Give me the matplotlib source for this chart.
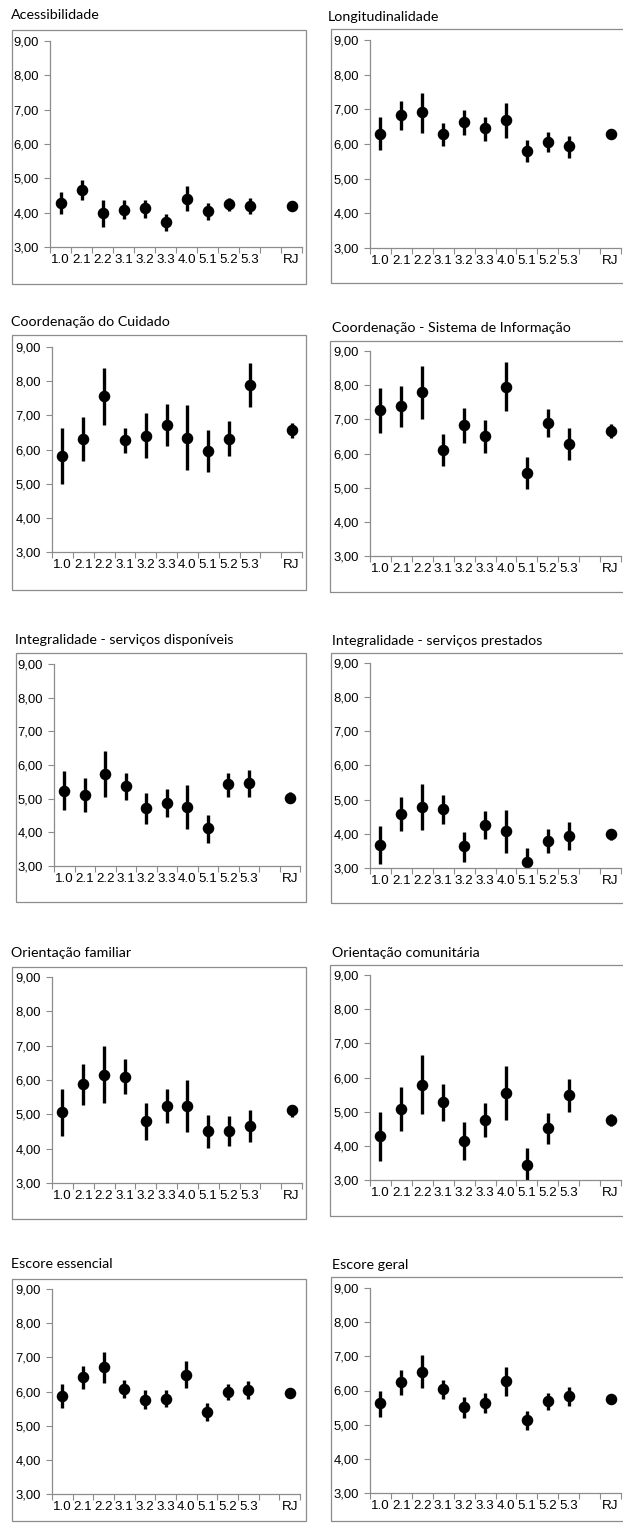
import numpy as np
import matplotlib
matplotlib.use("Agg")
from matplotlib import pyplot as plt
from matplotlib.patches import Rectangle
from matplotlib.ticker import FuncFormatter

# categories on the x axis (11th slot is empty in the original)
categories = ["1.0", "2.1", "2.2", "3.1", "3.2", "3.3", "4.0", "5.1", "5.2", "5.3", "", "RJ"]
cat_pos = [1, 2, 3, 4, 5, 6, 7, 8, 9, 10, 12]

# values: mean, lower and upper limit of the interval
acess_mean = [4.29, 4.67, 3.99, 4.09, 4.15, 3.74, 4.39, 4.04, 4.24, 4.19, 4.19]
acess_lo = [3.97, 4.36, 3.58, 3.83, 3.85, 3.48, 4.04, 3.80, 4.05, 3.97, 4.12]
acess_hi = [4.60, 4.94, 4.36, 4.38, 4.38, 3.97, 4.77, 4.28, 4.42, 4.42, 4.26]

longi_mean = [6.30, 6.84, 6.91, 6.28, 6.63, 6.45, 6.68, 5.81, 6.06, 5.93, 6.28]
longi_lo = [5.83, 6.41, 6.33, 5.93, 6.26, 6.09, 6.17, 5.47, 5.78, 5.59, 6.20]
longi_hi = [6.77, 7.25, 7.48, 6.62, 6.98, 6.77, 7.18, 6.12, 6.35, 6.24, 6.36]

coord_mean = [5.81, 6.32, 7.56, 6.27, 6.40, 6.72, 6.35, 5.96, 6.32, 7.90, 6.58]
coord_lo = [4.99, 5.65, 6.71, 5.91, 5.74, 6.11, 5.40, 5.35, 5.81, 7.25, 6.35]
coord_hi = [6.64, 6.94, 8.39, 6.62, 7.06, 7.33, 7.29, 6.58, 6.83, 8.53, 6.78]

sist_mean = [7.27, 7.39, 7.79, 6.11, 6.83, 6.50, 7.95, 5.43, 6.90, 6.27, 6.65]
sist_lo = [6.61, 6.78, 7.01, 5.64, 6.31, 6.02, 7.25, 4.95, 6.49, 5.80, 6.46]
sist_hi = [7.91, 7.97, 8.57, 6.57, 7.32, 6.98, 8.67, 5.90, 7.31, 6.74, 6.85]

disp_mean = [5.24, 5.12, 5.72, 5.37, 4.71, 4.88, 4.75, 4.12, 5.43, 5.46, 5.03]
disp_lo = [4.66, 4.60, 5.04, 4.95, 4.26, 4.45, 4.10, 3.69, 5.06, 5.06, 4.86]
disp_hi = [5.82, 5.60, 6.42, 5.77, 5.17, 5.29, 5.40, 4.52, 5.77, 5.85, 5.20]

prest_mean = [3.67, 4.59, 4.79, 4.72, 3.63, 4.27, 4.07, 3.18, 3.80, 3.93, 4.00]
prest_lo = [3.11, 4.08, 4.10, 4.30, 3.19, 3.85, 3.44, 2.78, 3.44, 3.54, 3.83]
prest_hi = [4.23, 5.08, 5.45, 5.13, 4.05, 4.66, 4.69, 3.58, 4.14, 4.34, 4.12]

fam_mean = [5.06, 5.89, 6.15, 6.09, 4.81, 5.25, 5.25, 4.51, 4.52, 4.66, 5.12]
fam_lo = [4.36, 5.28, 5.33, 5.58, 4.26, 4.75, 4.49, 4.01, 4.08, 4.18, 4.92]
fam_hi = [5.75, 6.48, 6.99, 6.60, 5.34, 5.75, 6.01, 4.99, 4.94, 5.14, 5.28]

comun_mean = [4.28, 5.09, 5.79, 5.27, 4.13, 4.76, 5.54, 3.44, 4.51, 5.48, 4.76]
comun_lo = [3.57, 4.43, 4.94, 4.74, 3.58, 4.25, 4.75, 2.93, 4.06, 4.98, 4.57]
comun_hi = [4.98, 5.72, 6.65, 5.80, 4.70, 5.25, 6.34, 3.95, 4.96, 5.97, 4.94]

ess_mean = [5.88, 6.41, 6.71, 6.08, 5.76, 5.79, 6.49, 5.39, 5.99, 6.03, 5.95]
ess_lo = [5.51, 6.08, 6.25, 5.81, 5.48, 5.54, 6.10, 5.13, 5.76, 5.78, 5.89]
ess_hi = [6.23, 6.74, 7.15, 6.35, 6.04, 6.05, 6.88, 5.66, 6.23, 6.30, 6.01]

geral_mean = [5.62, 6.24, 6.55, 6.03, 5.52, 5.64, 6.27, 5.13, 5.69, 5.84, 5.75]
geral_lo = [5.22, 5.88, 6.06, 5.74, 5.20, 5.35, 5.84, 4.83, 5.43, 5.55, 5.69]
geral_hi = [6.00, 6.60, 7.04, 6.31, 5.82, 5.93, 6.69, 5.41, 5.93, 6.11, 5.81]

titles = ["Acessibilidade", "Longitudinalidade",
          "Coordenação do Cuidado", "Coordenação - Sistema de Informação",
          "Integralidade - serviços disponíveis", "Integralidade - serviços prestados",
          "Orientação familiar", "Orientação comunitária",
          "Escore essencial", "Escore geral"]

series = [(acess_mean, acess_lo, acess_hi), (longi_mean, longi_lo, longi_hi),
          (coord_mean, coord_lo, coord_hi), (sist_mean, sist_lo, sist_hi),
          (disp_mean, disp_lo, disp_hi), (prest_mean, prest_lo, prest_hi),
          (fam_mean, fam_lo, fam_hi), (comun_mean, comun_lo, comun_hi),
          (ess_mean, ess_lo, ess_hi), (geral_mean, geral_lo, geral_hi)]

# layout in pixels: frame (x0, y0, x1, y1), axes (x0, y0, x1, y1), title (x, y)
W, H = 623, 1524
frames = [(12, 30, 306, 284), (331, 29, 628, 283),
          (12, 335, 306, 590), (330, 341, 628, 592),
          (16, 653, 306, 902), (331, 653, 628, 903),
          (12, 967, 306, 1219), (330, 965, 628, 1216),
          (12, 1279, 306, 1521), (331, 1277, 628, 1521)]
axes_px = [(50, 41, 302, 247), (370, 40, 621, 248),
           (52, 347, 302, 552), (370, 351, 621, 556),
           (54, 664, 300, 866), (370, 663, 621, 868),
           (52, 977, 302, 1183), (370, 975, 621, 1180),
           (52, 1289, 300, 1494), (370, 1288, 621, 1493)]
title_px = [(11, 15), (328, 17), (11, 322), (332, 328), (15, 640),
            (332, 641), (11, 953), (332, 953), (11, 1264), (332, 1265)]

GRAY = "#8c8c8c"
plt.rcParams['font.family'] = ['Liberation Sans', 'DejaVu Sans']

fig = plt.figure(figsize=(W / 100, H / 100), dpi=100)

for i in range(10):
    fx0, fy0, fx1, fy1 = frames[i]
    fig.patches.append(Rectangle((fx0 / W, 1 - fy1 / H), (fx1 - fx0) / W, (fy1 - fy0) / H,
                                 transform=fig.transFigure, fill=False,
                                 edgecolor=GRAY, lw=0.9))
    tx, ty = title_px[i]
    fig.text(tx / W, 1 - ty / H, titles[i], family=['Lato', 'DejaVu Sans'],
             fontsize=10.3, va='center', ha='left', color='black')

    ax0, ay0, ax1, ay1 = axes_px[i]
    ax = fig.add_axes([ax0 / W, 1 - ay1 / H, (ax1 - ax0) / W, (ay1 - ay0) / H])
    mean, lo, hi = series[i]
    mean = np.array(mean)
    yerr = [mean - np.array(lo), np.array(hi) - mean]
    ax.errorbar(cat_pos, mean, yerr=yerr, fmt='o', color='black', ms=7.3,
                elinewidth=2.4, capsize=0)

    ax.set_xlim(0.5, 12.5)
    ax.set_ylim(3, 9)
    ax.set_yticks(np.arange(3, 10, 1))
    ax.yaxis.set_major_formatter(FuncFormatter(lambda v, p: f"{v:.2f}".replace(".", ",")))
    ax.set_xticks(np.arange(0.5, 13, 1))
    ax.set_xticklabels([])
    ax.set_xticks(np.arange(1, 13), minor=True)
    ax.set_xticklabels(categories, minor=True)
    ax.tick_params(axis='x', which='minor', length=0, pad=5, labelsize=9.6)
    ax.tick_params(axis='x', which='major', length=4, color=GRAY, width=0.8)
    ax.tick_params(axis='y', length=4, color=GRAY, width=0.8, pad=4, labelsize=9.4)
    for s in ['top', 'right']:
        ax.spines[s].set_visible(False)
    for s in ['left', 'bottom']:
        ax.spines[s].set_color(GRAY)
        ax.spines[s].set_linewidth(0.9)
    ax.patch.set_alpha(0)

fig.savefig("out.png", dpi=100)
